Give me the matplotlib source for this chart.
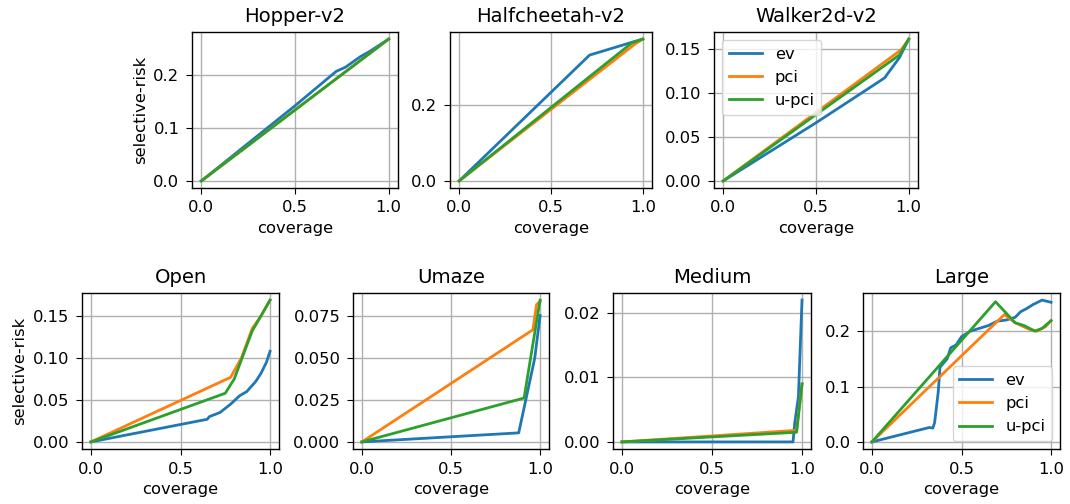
import matplotlib
matplotlib.use("Agg")
import matplotlib.pyplot as plt

W, H = 1070, 504
plt.rcParams['font.family'] = 'DejaVu Sans'
plt.rcParams['font.size'] = 11.8
plt.rcParams['xtick.major.size'] = 4.5
plt.rcParams['ytick.major.size'] = 4.5
plt.rcParams['xtick.major.pad'] = 4.5
plt.rcParams['ytick.major.pad'] = 4.5
plt.rcParams['axes.titlepad'] = 7
plt.rcParams['axes.linewidth'] = 1.0
plt.rcParams['grid.linewidth'] = 1.0

labels = ["ev", "pci", "u-pci"]
colors = ["#1f77b4", "#ff7f0e", "#2ca02c"]

# Hopper-v2
hop_ev_x = [0.0, 0.5, 0.72, 0.77, 0.85, 0.9, 1.0]
hop_ev_y = [0.0, 0.142, 0.207, 0.215, 0.235, 0.245, 0.268]
hop_pci_x = [0.0, 1.0]
hop_pci_y = [0.0, 0.268]
hop_upci_x = [0.0, 1.0]
hop_upci_y = [0.0, 0.268]

# Halfcheetah-v2
hc_ev_x = [0.0, 0.71, 0.95, 1.0]
hc_ev_y = [0.0, 0.330, 0.365, 0.372]
hc_pci_x = [0.0, 0.96, 1.0]
hc_pci_y = [0.0, 0.360, 0.372]
hc_upci_x = [0.0, 0.94, 1.0]
hc_upci_y = [0.0, 0.362, 0.372]

# Walker2d-v2
wk_ev_x = [0.0, 0.5, 0.82, 0.87, 0.95, 1.0]
wk_ev_y = [0.0, 0.066, 0.110, 0.117, 0.140, 0.161]
wk_pci_x = [0.0, 0.96, 1.0]
wk_pci_y = [0.0, 0.149, 0.161]
wk_upci_x = [0.0, 0.95, 1.0]
wk_upci_y = [0.0, 0.143, 0.161]

# Open
op_ev_x = [0.0, 0.65, 0.66, 0.72, 0.78, 0.83, 0.87, 0.92, 0.95, 0.98, 1.0]
op_ev_y = [0.0, 0.027, 0.030, 0.035, 0.045, 0.055, 0.060, 0.072, 0.082, 0.095, 0.108]
op_pci_x = [0.0, 0.78, 0.84, 0.9, 0.95, 1.0]
op_pci_y = [0.0, 0.077, 0.100, 0.135, 0.150, 0.169]
op_upci_x = [0.0, 0.75, 0.8, 0.9, 1.0]
op_upci_y = [0.0, 0.058, 0.075, 0.132, 0.169]

# Umaze
um_ev_x = [0.0, 0.88, 0.97, 1.0]
um_ev_y = [0.0, 0.0054, 0.050, 0.0755]
um_pci_x = [0.0, 0.96, 0.98, 1.0]
um_pci_y = [0.0, 0.067, 0.082, 0.084]
um_upci_x = [0.0, 0.91, 1.0]
um_upci_y = [0.0, 0.0262, 0.0847]

# Medium
md_ev_x = [0.0, 0.95, 0.96, 0.98, 1.0]
md_ev_y = [0.0, 0.0, 0.003, 0.007, 0.022]
md_pci_x = [0.0, 0.97, 1.0]
md_pci_y = [0.0, 0.0018, 0.009]
md_upci_x = [0.0, 0.97, 1.0]
md_upci_y = [0.0, 0.0015, 0.009]

# Large
lg_ev_x = [0.0, 0.32, 0.34, 0.35, 0.37, 0.38, 0.42, 0.44, 0.47, 0.5, 0.55, 0.6,
           0.65, 0.7, 0.75, 0.8, 0.83, 0.86, 0.9, 0.95, 1.0]
lg_ev_y = [0.0, 0.026, 0.025, 0.035, 0.090, 0.135, 0.150, 0.170, 0.175, 0.190, 0.200,
           0.205, 0.210, 0.218, 0.220, 0.225, 0.235, 0.240, 0.248, 0.256, 0.252]
lg_pci_x = [0.0, 0.74, 0.8, 0.88, 0.92, 0.97, 1.0]
lg_pci_y = [0.0, 0.230, 0.215, 0.203, 0.200, 0.208, 0.219]
lg_upci_x = [0.0, 0.69, 0.8, 0.85, 0.91, 0.95, 1.0]
lg_upci_y = [0.0, 0.253, 0.215, 0.210, 0.200, 0.205, 0.219]

panels = [
    ("Hopper-v2", (hop_ev_x, hop_ev_y), (hop_pci_x, hop_pci_y), (hop_upci_x, hop_upci_y),
     [0.0, 0.1, 0.2], ["0.0", "0.1", "0.2"], (192, 32, 398, 188), True, None),
    ("Halfcheetah-v2", (hc_ev_x, hc_ev_y), (hc_pci_x, hc_pci_y), (hc_upci_x, hc_upci_y),
     [0.0, 0.2], ["0.0", "0.2"], (450, 32, 652, 188), False, None),
    ("Walker2d-v2", (wk_ev_x, wk_ev_y), (wk_pci_x, wk_pci_y), (wk_upci_x, wk_upci_y),
     [0.0, 0.05, 0.10, 0.15], ["0.00", "0.05", "0.10", "0.15"], (714, 32, 918, 188), False, "upper left"),
    ("Open", (op_ev_x, op_ev_y), (op_pci_x, op_pci_y), (op_upci_x, op_upci_y),
     [0.0, 0.05, 0.10, 0.15], ["0.00", "0.05", "0.10", "0.15"], (82, 293, 279, 449), True, None),
    ("Umaze", (um_ev_x, um_ev_y), (um_pci_x, um_pci_y), (um_upci_x, um_upci_y),
     [0.0, 0.025, 0.05, 0.075], ["0.000", "0.025", "0.050", "0.075"], (353, 293, 549, 449), False, None),
    ("Medium", (md_ev_x, md_ev_y), (md_pci_x, md_pci_y), (md_upci_x, md_upci_y),
     [0.0, 0.01, 0.02], ["0.00", "0.01", "0.02"], (613, 293, 811, 449), False, None),
    ("Large", (lg_ev_x, lg_ev_y), (lg_pci_x, lg_pci_y), (lg_upci_x, lg_upci_y),
     [0.0, 0.1, 0.2], ["0.0", "0.1", "0.2"], (863, 293, 1060, 449), False, "lower right"),
]

fig = plt.figure(figsize=(W / 100, H / 100), dpi=100)
for title, ev, pci, upci, yt, ytl, (x0, y0, x1, y1), ylab, leg in panels:
    ax = fig.add_axes([x0 / W, 1 - y1 / H, (x1 - x0) / W, (y1 - y0) / H])
    for (xs, ys), lab, c in zip([ev, pci, upci], labels, colors):
        ax.plot(xs, ys, color=c, lw=2, label=lab)
    ax.set_title(title)
    ax.set_xticks([0.0, 0.5, 1.0])
    ax.set_xticklabels(["0.0", "0.5", "1.0"])
    ax.set_yticks(yt)
    ax.set_yticklabels(ytl)
    ax.set_xlabel("coverage")
    if ylab:
        ax.set_ylabel("selective-risk")
    ax.grid(True)
    if leg:
        ax.legend(loc=leg)

fig.savefig("out.png", dpi=100)
